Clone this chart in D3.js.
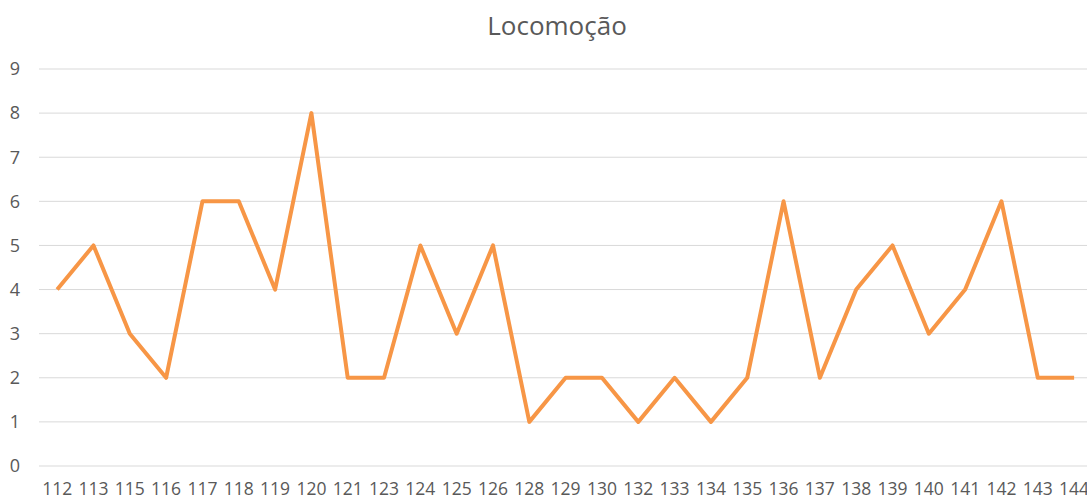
<!DOCTYPE html>
<html>
<head>
<meta charset="utf-8">
<script src="https://d3js.org/d3.v7.min.js"></script>
<style>
  body { margin: 0; background: #fff; }
  text { font-family: "Open Sans", "Noto Sans", sans-serif; fill: #595959; }
</style>
</head>
<body>
<div id="chart"></div>
<script>
// data
const categories = ["112","113","115","116","117","118","119","120","121","123","124","125","126","128","129","130","132","133","134","135","136","137","138","139","140","141","142","143","144"];
const values = [4,5,3,2,6,6,4,8,2,2,5,3,5,1,2,2,1,2,1,2,6,2,4,5,3,4,6,2,2];
const yTicks = [0,1,2,3,4,5,6,7,8,9];
const title = "Locomoção";

const W = 1087, H = 500;
const margin = {top: 69, left: 39, bottom: 34};
const step = 36.32;

const svg = d3.select("#chart").append("svg")
  .attr("width", W).attr("height", H);

const x = d3.scaleBand()
  .domain(categories)
  .range([margin.left, margin.left + step * categories.length]);

const y = d3.scaleLinear()
  .domain([0, 9])
  .range([H - margin.bottom, margin.top]);

// gridlines
svg.append("g")
  .selectAll("line")
  .data(yTicks)
  .join("line")
    .attr("x1", margin.left)
    .attr("x2", W)
    .attr("y1", d => y(d))
    .attr("y2", d => y(d))
    .attr("stroke", "#d9d9d9")
    .attr("stroke-width", 1);

// y labels
svg.append("g")
  .selectAll("text")
  .data(yTicks)
  .join("text")
    .attr("x", 20)
    .attr("y", d => y(d))
    .attr("dy", "0.35em")
    .attr("text-anchor", "end")
    .style("font-size", "18px")
    .text(d => d);

// x labels
svg.append("g")
  .selectAll("text")
  .data(categories)
  .join("text")
    .attr("x", d => x(d) + x.bandwidth() / 2)
    .attr("y", 495)
    .attr("text-anchor", "middle")
    .style("font-size", "17.5px")
    .text(d => d);

// line
svg.append("path")
  .datum(values)
  .attr("fill", "none")
  .attr("stroke", "#F79646")
  .attr("stroke-width", 4)
  .attr("stroke-linejoin", "round")
  .attr("d", d3.line()
    .x((d, i) => x(categories[i]) + x.bandwidth() / 2)
    .y(d => y(d)));

// title
svg.append("text")
  .attr("x", 557)
  .attr("y", 35)
  .attr("text-anchor", "middle")
  .style("font-size", "26px")
  .text(title);
</script>
</body>
</html>
